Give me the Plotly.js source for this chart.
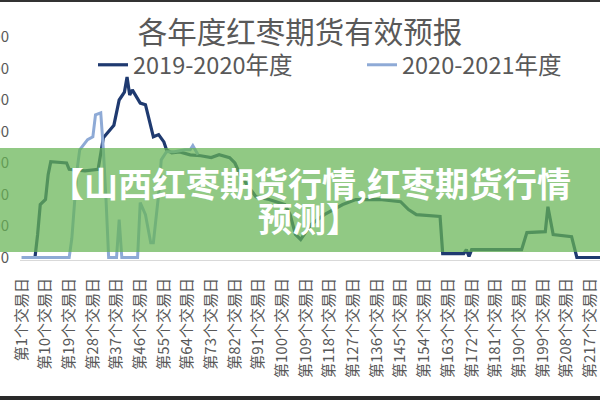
<!DOCTYPE html>
<html><head><meta charset="utf-8">
<script src="https://cdn.plot.ly/plotly-3.0.1.min.js"></script>
<style>html,body{margin:0;padding:0;background:#fff}#chart{width:600px;height:400px}</style>
</head><body><div id="chart"></div>
<script>
const chartTitle = "各年度红枣期货有效预报";
const seriesNames = ["2019-2020年度", "2020-2021年度"];

// 2019-2020 season: trading day -> value (read at visible break points)
const days1920 = [1, 6, 7, 8, 10, 11, 12, 18, 19, 25, 30, 32, 34, 36, 38, 40, 41, 42, 43, 45, 46, 48, 50, 51, 53, 55, 56, 58, 61, 65, 69, 73, 76, 80, 82, 84, 88, 90, 95, 101, 103, 105, 107, 111, 116, 123, 128, 137, 145, 148, 151, 160, 161, 169, 170, 171, 172, 191, 193, 200, 201, 203, 210, 212, 221];
const values1920 = [0, 0, 73, 168, 184, 263, 304, 300, 280, 275, 280, 380, 400, 420, 500, 525, 573, 516, 532, 507, 490, 485, 412, 383, 390, 367, 342, 332, 335, 326, 323, 317, 326, 317, 300, 263, 215, 193, 184, 168, 136, 73, 57, 105, 136, 168, 184, 184, 177, 152, 136, 130, 12, 12, 25, 3, 25, 25, 79, 82, 161, 73, 66, 0, 0];

// 2020-2021 season
const days2021 = [1, 19, 20, 21, 22, 23, 26, 28, 29, 31, 32, 33, 34, 37, 38, 39, 45, 46, 48, 50, 51, 53, 54, 56, 59, 63, 65, 66, 68];
const values2021 = [0, 0, 60, 184, 279, 342, 374, 383, 453, 459, 342, 184, 0, 0, 120, 0, 0, 174, 136, 47, 47, 200, 310, 336, 336, 342, 342, 355, 326];

const tickDays = [1, 10, 19, 28, 37, 46, 55, 64, 73, 82, 91, 100, 109, 118, 127, 136, 145, 154, 163, 172, 181, 190, 199, 208, 217];
const tickLabels = ["第1个交易日", "第10个交易日", "第19个交易日", "第28个交易日", "第37个交易日", "第46个交易日", "第55个交易日", "第64个交易日", "第73个交易日", "第82个交易日", "第91个交易日", "第100个交易日", "第109个交易日", "第118个交易日", "第127个交易日", "第136个交易日", "第145个交易日", "第154个交易日", "第163个交易日", "第172个交易日", "第181个交易日", "第190个交易日", "第199个交易日", "第208个交易日", "第217个交易日"];
const yTicks = [0, 100, 200, 300, 400, 500, 600, 700];
const bannerLines = ["【山西红枣期货行情,红枣期货行情", "预测】"];

const W = 600, H = 400, L = 20, R = 0, T = 37, B = 140;
const PW = W - L - R, PH = H - T - B;
const fx = px => (px - L) / PW;
const fy = py => (H - B - py) / PH;
const FONT = "'Noto Sans CJK SC', 'Noto Sans', sans-serif";
const GREY = "#595959";

const traces = [
  {x: days1920, y: values1920, name: seriesNames[0], type: "scatter", mode: "lines",
   line: {color: "#1f3a70", width: 3.2}, legend: "legend"},
  {x: days2021, y: values2021, name: seriesNames[1], type: "scatter", mode: "lines",
   line: {color: "#8eaad6", width: 3}, legend: "legend2"}
];

const legendCommon = {orientation: "h", xanchor: "left", yanchor: "middle",
  font: {family: FONT, size: 23.5, color: GREY}, bgcolor: "rgba(0,0,0,0)", borderwidth: 0};

const layout = {
  width: W, height: H,
  margin: {l: L, r: R, t: T, b: B, pad: 0},
  paper_bgcolor: "#ffffff", plot_bgcolor: "#ffffff",
  font: {family: FONT, color: GREY},
  title: {text: chartTitle, x: 0.5, xref: "container", xanchor: "center",
          y: 1 - 33 / H, yref: "container", yanchor: "middle",
          font: {family: FONT, size: 29.5, color: GREY}},
  showlegend: true,
  legend: Object.assign({}, legendCommon, {x: fx(93), y: fy(65)}),
  legend2: Object.assign({}, legendCommon, {x: fx(362), y: fy(65)}),
  xaxis: {range: [0.3, 220.8], tickmode: "array", tickvals: tickDays, ticktext: tickLabels,
          tickangle: -90, tickfont: {family: FONT, size: 15, color: GREY},
          ticklabeloverflow: "allow",
          showgrid: false, zeroline: false, showline: true, linecolor: "#d9d9d9", linewidth: 1,
          ticks: "", ticklabelstandoff: 11, fixedrange: true},
  yaxis: {range: [-8, 700], tickmode: "array", tickvals: yTicks,
          tickfont: {family: FONT, size: 15, color: GREY},
          showgrid: false, zeroline: false, showline: false, ticks: "",
          ticklabelstandoff: 10, fixedrange: true},
  shapes: [
    {type: "rect", xref: "paper", yref: "paper", x0: fx(0), x1: fx(600), y0: fy(252), y1: fy(148),
     fillcolor: "rgba(102,180,84,0.72)", line: {width: 0}, layer: "above"},
    {type: "rect", xref: "paper", yref: "paper", x0: fx(0), x1: fx(600), y0: fy(2), y1: fy(0),
     fillcolor: "#333333", line: {width: 0}, layer: "above"},
    {type: "rect", xref: "paper", yref: "paper", x0: fx(0), x1: fx(600), y0: fy(400), y1: fy(396),
     fillcolor: "#2a2a2a", line: {width: 0}, layer: "above"}
  ],
  annotations: [
    {text: bannerLines[0], xref: "paper", yref: "paper", x: fx(310), y: fy(182),
     xanchor: "center", yanchor: "middle", showarrow: false,
     font: {family: FONT, size: 34, color: "#ffffff", weight: "bold"}},
    {text: bannerLines[1], xref: "paper", yref: "paper", x: fx(309), y: fy(217),
     xanchor: "center", yanchor: "middle", showarrow: false,
     font: {family: FONT, size: 34, color: "#ffffff", weight: "bold"}}
  ]
};

Plotly.newPlot("chart", traces, layout, {displayModeBar: false, staticPlot: true});
</script>
</body></html>
